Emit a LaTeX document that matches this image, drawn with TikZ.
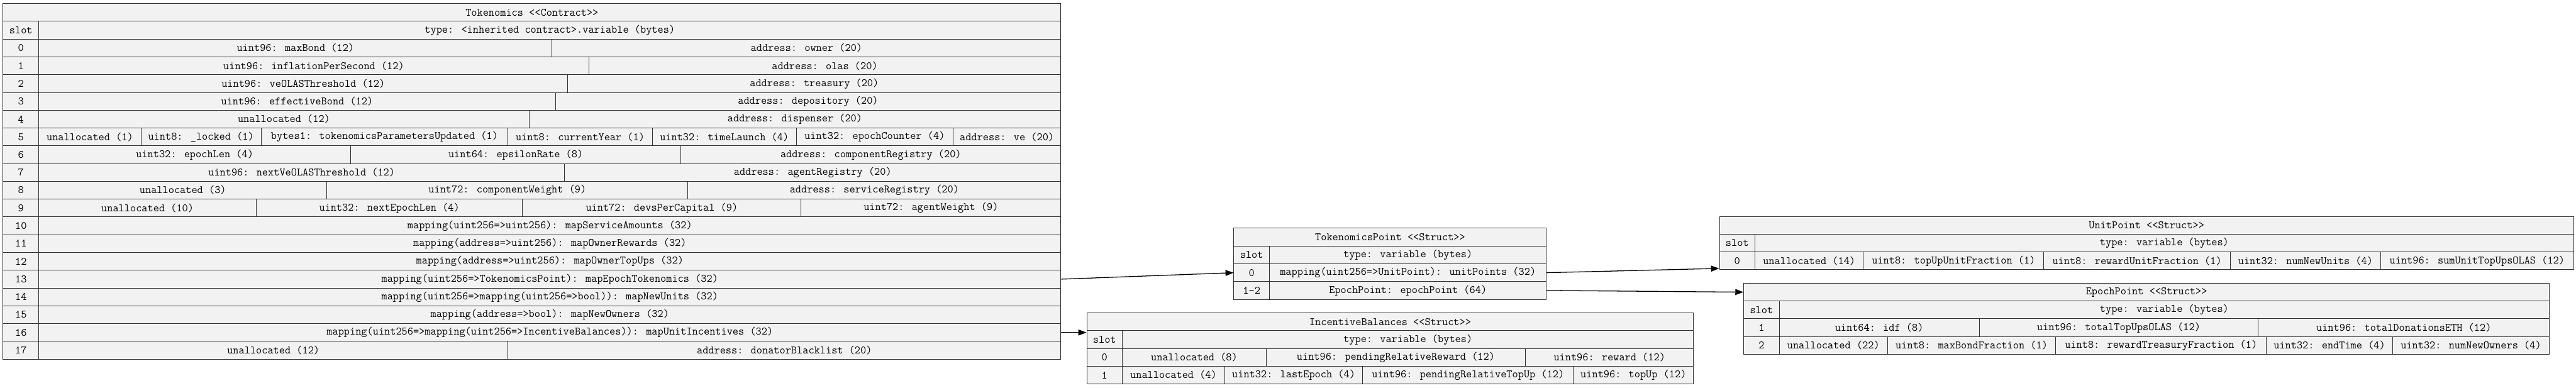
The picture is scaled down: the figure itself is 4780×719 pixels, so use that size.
\documentclass[tikz,border=0pt]{standalone}
\usepackage{fontspec}
\usetikzlibrary{arrows.meta}

\definecolor{cellgray}{HTML}{F2F2F2}
\definecolor{rulegray}{HTML}{303030}
\newcommand{\tabfont}{\ttfamily\fontsize{20.8}{24}\selectfont}

\tikzset{
	cell/.style={draw=rulegray, fill=cellgray, line width=1.15pt, inner sep=0pt,
		anchor=north west, minimum height=33pt, font=\tabfont},
	link/.style={line width=1.5pt, -{Triangle[length=15pt,width=11pt]}},
}

% name, left x, right x, top y, text
\newcommand{\cell}[5]{\node[cell, minimum width={(#3)-(#2)}] (#1) at (#2,#4) {#5};}

\begin{document}
\begin{tikzpicture}[x=1pt, y=-1pt]
	\useasboundingbox (0,0) rectangle (4780,719);
	\def\lft{5}
	\def\slt{71.5}
	\def\rgt{1968}

	% TOKENOMICS
	\cell{tok}{\lft}{\rgt}{6}{Tokenomics <{}<Contract>{}>}
	\cell{tokslot}{\lft}{\slt}{39}{slot}
	\cell{toktype}{\slt}{\rgt}{39}{type: <inherited contract>.variable (bytes)}
	\foreach \i in {0,...,17}
		\cell{tokn\i}{\lft}{\slt}{72+33*\i}{\i};
	\cell{tok0a}{\slt}{1024}{72}{uint96: maxBond (12)}
	\cell{tok0b}{1024}{\rgt}{72}{address: owner (20)}
	\cell{tok1a}{\slt}{1092}{105}{uint96: inflationPerSecond (12)}
	\cell{tok1b}{1092}{\rgt}{105}{address: olas (20)}
	\cell{tok2a}{\slt}{1053}{138}{uint96: veOLASThreshold (12)}
	\cell{tok2b}{1053}{\rgt}{138}{address: treasury (20)}
	\cell{tok3a}{\slt}{1030}{171}{uint96: effectiveBond (12)}
	\cell{tok3b}{1030}{\rgt}{171}{address: depository (20)}
	\cell{tok4a}{\slt}{981}{204}{unallocated (12)}
	\cell{tok4b}{981}{\rgt}{204}{address: dispenser (20)}
	\cell{tok5a}{\slt}{261}{237}{unallocated (1)}
	\cell{tok5b}{261}{484}{237}{uint8: \_locked (1)}
	\cell{tok5c}{484}{942}{237}{bytes1: tokenomicsParametersUpdated (1)}
	\cell{tok5d}{942}{1210}{237}{uint8: currentYear (1)}
	\cell{tok5e}{1210}{1477}{237}{uint32: timeLaunch (4)}
	\cell{tok5f}{1477}{1768}{237}{uint32: epochCounter (4)}
	\cell{tok5g}{1768}{\rgt}{237}{address: ve (20)}
	\cell{tok6a}{\slt}{650}{270}{uint32: epochLen (4)}
	\cell{tok6b}{650}{1263}{270}{uint64: epsilonRate (8)}
	\cell{tok6c}{1263}{\rgt}{270}{address: componentRegistry (20)}
	\cell{tok7a}{\slt}{1047}{303}{uint96: nextVeOLASThreshold (12)}
	\cell{tok7b}{1047}{\rgt}{303}{address: agentRegistry (20)}
	\cell{tok8a}{\slt}{606}{336}{unallocated (3)}
	\cell{tok8b}{606}{1276}{336}{uint72: componentWeight (9)}
	\cell{tok8c}{1276}{\rgt}{336}{address: serviceRegistry (20)}
	\cell{tok9a}{\slt}{475}{369}{unallocated (10)}
	\cell{tok9b}{475}{969}{369}{uint32: nextEpochLen (4)}
	\cell{tok9c}{969}{1486}{369}{uint72: devsPerCapital (9)}
	\cell{tok9d}{1486}{\rgt}{369}{uint72: agentWeight (9)}
	\foreach \i/\txt in {
		10/{mapping(uint256=>uint256): mapServiceAmounts (32)},
		11/{mapping(address=>uint256): mapOwnerRewards (32)},
		12/{mapping(address=>uint256): mapOwnerTopUps (32)},
		13/{mapping(uint256=>TokenomicsPoint): mapEpochTokenomics (32)},
		14/{mapping(uint256=>mapping(uint256=>bool)): mapNewUnits (32)},
		15/{mapping(address=>bool): mapNewOwners (32)},
		16/{mapping(uint256=>mapping(uint256=>IncentiveBalances)): mapUnitIncentives (32)}}
		\cell{tok\i}{\slt}{\rgt}{72+33*\i}{\txt};
	\cell{tok17a}{\slt}{942}{633}{unallocated (12)}
	\cell{tok17b}{942}{\rgt}{633}{address: donatorBlacklist (20)}

	% TOKENOMICS POINT
	\cell{tp}{2289}{2869}{423}{TokenomicsPoint <{}<Struct>{}>}
	\cell{tpslot}{2289}{2355}{456}{slot}
	\cell{tptype}{2355}{2869}{456}{type: variable (bytes)}
	\cell{tp0s}{2289}{2355}{489}{0}
	\cell{tp0}{2355}{2869}{489}{mapping(uint256=>UnitPoint): unitPoints (32)}
	\cell{tp1s}{2289}{2355}{522}{1-2}
	\cell{tp1}{2355}{2869}{522}{EpochPoint: epochPoint (64)}

	% INCENTIVE BALANCES
	\cell{ib}{2016}{3142}{580}{IncentiveBalances <{}<Struct>{}>}
	\cell{ibslot}{2016}{2082}{613}{slot}
	\cell{ibtype}{2082}{3142}{613}{type: variable (bytes)}
	\cell{ib0s}{2016}{2082}{646}{0}
	\cell{ib0a}{2082}{2349}{646}{unallocated (8)}
	\cell{ib0b}{2349}{2830}{646}{uint96: pendingRelativeReward (12)}
	\cell{ib0c}{2830}{3142}{646}{uint96: reward (12)}
	\cell{ib1s}{2016}{2082}{679}{1}
	\cell{ib1a}{2082}{2272}{679}{unallocated (4)}
	\cell{ib1b}{2272}{2528}{679}{uint32: lastEpoch (4)}
	\cell{ib1c}{2528}{2919}{679}{uint96: pendingRelativeTopUp (12)}
	\cell{ib1d}{2919}{3142}{679}{uint96: topUp (12)}

	% UNIT POINT
	\cell{up}{3190}{4775}{401}{UnitPoint <{}<Struct>{}>}
	\cell{upslot}{3190}{3256}{434}{slot}
	\cell{uptype}{3256}{4775}{434}{type: variable (bytes)}
	\cell{up0s}{3190}{3256}{467}{0}
	\cell{up0a}{3256}{3457}{467}{unallocated (14)}
	\cell{up0b}{3457}{3792}{467}{uint8: topUpUnitFraction (1)}
	\cell{up0c}{3792}{4138}{467}{uint8: rewardUnitFraction (1)}
	\cell{up0d}{4138}{4417}{467}{uint32: numNewUnits (4)}
	\cell{up0e}{4417}{4775}{467}{uint96: sumUnitTopUpsOLAS (12)}

	% EPOCH POINT
	\cell{ep}{3235}{4730}{525}{EpochPoint <{}<Struct>{}>}
	\cell{epslot}{3235}{3301}{558}{slot}
	\cell{eptype}{3301}{4730}{558}{type: variable (bytes)}
	\cell{ep1s}{3235}{3301}{591}{1}
	\cell{ep1a}{3301}{3672}{591}{uint64: idf (8)}
	\cell{ep1b}{3672}{4190}{591}{uint96: totalTopUpsOLAS (12)}
	\cell{ep1c}{4190}{4730}{591}{uint96: totalDonationsETH (12)}
	\cell{ep2s}{3235}{3301}{624}{2}
	\cell{ep2a}{3301}{3502}{624}{unallocated (22)}
	\cell{ep2b}{3502}{3814}{624}{uint8: maxBondFraction (1)}
	\cell{ep2c}{3814}{4205}{624}{uint8: rewardTreasuryFraction (1)}
	\cell{ep2d}{4205}{4439}{624}{uint32: endTime (4)}
	\cell{ep2e}{4439}{4730}{624}{uint32: numNewOwners (4)}

	% LINKS
	\draw[link] (tok13.east) -- (tp0s.west);
	\draw[link] (tok16.east) -- (tok16.east -| ib.west);
	\draw[link] (tp0.east) -- ([yshift=3pt]up0s.south west);
	\draw[link] (tp1.east) -- (ep.west);
\end{tikzpicture}
\end{document}
